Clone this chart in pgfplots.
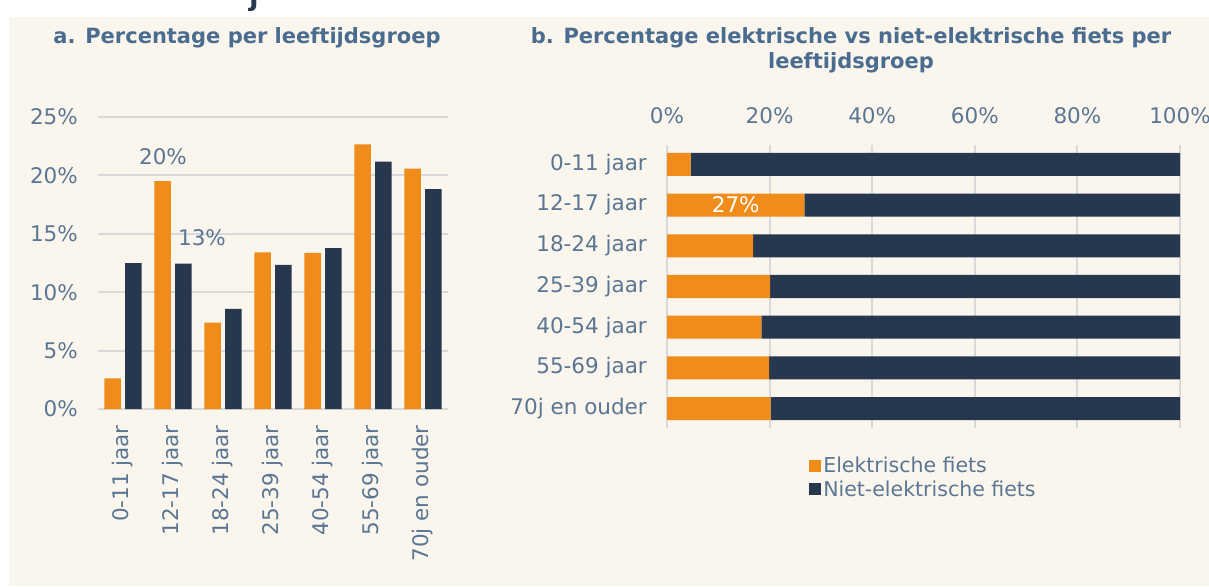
\documentclass[border=0pt]{standalone}
\usepackage{fontspec}
\setmainfont{DejaVu Sans}
\usepackage{pgfplots}
\pgfplotsset{compat=1.18}
\definecolor{cream}{HTML}{FAF6EE}
\definecolor{orng}{HTML}{F08C1A}
\definecolor{navy}{HTML}{26374E}
\definecolor{titleblue}{HTML}{4A6C8E}
\definecolor{lblue}{HTML}{5B7693}
\definecolor{gridc}{HTML}{D9D9D9}
\newcommand\fs{\fontsize{21.5}{25}\selectfont}
\newcommand\ls{\fontsize{20.5}{24}\selectfont}
\newcommand\ts{\fontsize{21}{25}\selectfont\bfseries}
\begin{document}
\begin{tikzpicture}[x=1pt,y=1pt]
\clip (0,0) rectangle (1209,586);
\fill[white] (0,0) rectangle (1209,586);
\node[anchor=base, font=\fontsize{28}{30}\selectfont\bfseries, text=navy, inner sep=0pt] at (254,580) {j};
\fill[cream] (9,0) rectangle (1209,569);
\node[font=\ts, text=titleblue] at (247,548) {a. Percentage per leeftijdsgroep};
\node[font=\ts, text=titleblue, align=center] at (851,535.5) {b. Percentage elektrische vs niet-elektrische fiets per\\leeftijdsgroep};

\begin{axis}[at={(98pt,177pt)}, anchor=south west, scale only axis,
  width=350pt, height=292pt, xmin=-0.5, xmax=6.5, ymin=0, ymax=25,
  ytick={0,5,10,15,20,25}, yticklabels={0\%,5\%,10\%,15\%,20\%,25\%},
  xtick={0,...,6},
  xticklabels={0-11 jaar,12-17 jaar,18-24 jaar,25-39 jaar,40-54 jaar,55-69 jaar,70j en ouder},
  ymajorgrids, grid style={gridc, line width=2pt},
  axis line style={draw=none}, major tick length=0pt,
  ticklabel style={font=\fs, text=lblue},
  yticklabel style={inner sep=0pt, xshift=-20pt},
  xticklabel style={rotate=90, anchor=east, inner sep=0pt, xshift=-16pt},
  clip=false]
\addplot[ybar, bar width=16.5pt, bar shift=-10.3pt, fill=orng, draw=none]
  coordinates {(0,2.63) (1,19.5) (2,7.4) (3,13.4) (4,13.37) (5,22.65) (6,20.57)};
\addplot[ybar, bar width=16.5pt, bar shift=10.3pt, fill=navy, draw=none]
  coordinates {(0,12.48) (1,12.45) (2,8.57) (3,12.34) (4,13.77) (5,21.17) (6,18.83)};
\node[font=\fs, text=lblue] at (axis cs:0.8,21.6) {20\%};
\node[font=\fs, text=lblue] at (axis cs:1.58,14.7) {13\%};
\end{axis}

\begin{axis}[at={(667pt,158pt)}, anchor=south west, scale only axis,
  width=513pt, height=283pt, xmin=0, xmax=100, ymin=-0.475, ymax=6.475,
  y dir=reverse, xbar stacked, bar width=23pt,
  xtick={0,20,...,100}, xticklabels={0\%,20\%,40\%,60\%,80\%,100\%},
  xticklabel pos=upper,
  ytick={0,...,6},
  yticklabels={0-11 jaar,12-17 jaar,18-24 jaar,25-39 jaar,40-54 jaar,55-69 jaar,70j en ouder},
  xmajorgrids, grid style={gridc, line width=2pt},
  axis line style={draw=none}, major tick length=0pt,
  ticklabel style={font=\fs, text=lblue},
  yticklabel style={inner sep=0pt, xshift=-20pt},
  xticklabel style={inner sep=0pt, yshift=21pt},
  legend style={at={(0.277,-0.096)}, anchor=north west, draw=none, fill=none,
    font=\ls, text=lblue, inner sep=0pt, row sep=2pt,
    nodes={inner sep=2pt}},
  legend cell align=left,
  legend image code/.code={\fill[#1] (-2pt,-6pt) rectangle (10pt,6pt);},
  clip=false]
\addplot[fill=orng, draw=none]
  coordinates {(4.6,0) (26.8,1) (16.8,2) (20.1,3) (18.4,4) (19.9,5) (20.2,6)};
\addplot[fill=navy, draw=none]
  coordinates {(95.4,0) (73.2,1) (83.2,2) (79.9,3) (81.6,4) (80.1,5) (79.8,6)};
\legend{Elektrische fiets, Niet-elektrische fiets}
\coordinate (p27) at (axis cs:13.4,1);
\end{axis}
\node[font=\fs, text=white] at (p27) {27\%};
\end{tikzpicture}
\end{document}
